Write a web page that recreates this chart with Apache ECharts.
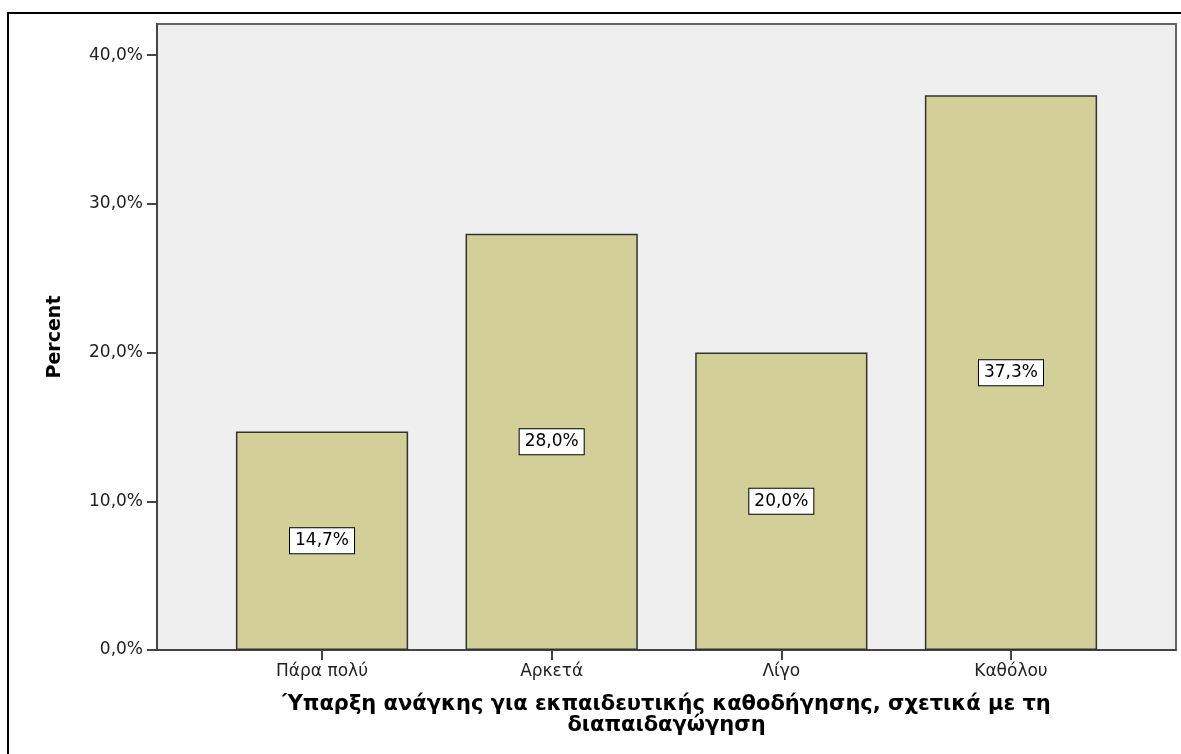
<!DOCTYPE html>
<html>
<head>
<meta charset="utf-8">
<script src="https://cdn.jsdelivr.net/npm/echarts@6/dist/echarts.min.js"></script>
<style>
html,body{margin:0;padding:0;background:#fff;}
#c{width:1181px;height:754px;}
</style>
</head>
<body>
<div id="c"></div>
<script>
const categories = ['Πάρα πολύ', 'Αρκετά', 'Λίγο', 'Καθόλου'];
const percentValues = [14.7, 28.0, 20.0, 37.3];
const yTickValues = [0, 10, 20, 30, 40];
const yAxisMax = 42.1;
const xAxisTitle = 'Ύπαρξη ανάγκης για εκπαιδευτικής καθοδήγησης, σχετικά με τη\nδιαπαιδαγώγηση';
const yAxisTitle = 'Percent';

const fmt = v => v.toFixed(1).replace('.', ',') + '%';
const FONT = 'DejaVu Sans';

const chart = echarts.init(document.getElementById('c'), null, {renderer: 'canvas'});
chart.setOption({
  animation: false,
  backgroundColor: '#ffffff',
  graphic: [{
    type: 'rect', z: 100,
    shape: {x: 8, y: 13, width: 1300, height: 900},
    style: {fill: 'none', stroke: '#000', lineWidth: 2}
  }],
  grid: [
    {left: 157, right: 5, top: 24, bottom: 104, show: true, backgroundColor: '#efefef', borderColor: '#666', borderWidth: 2},
    {left: 207.2, right: 55.2, top: 24, bottom: 104}
  ],
  xAxis: [
    {
      gridIndex: 0, type: 'value', min: 0, max: 1,
      axisLine: {show: true, lineStyle: {color: '#444', width: 2}},
      axisTick: {show: false}, axisLabel: {show: false}, splitLine: {show: false},
      name: xAxisTitle, nameLocation: 'middle', nameGap: 44,
      nameTextStyle: {fontFamily: FONT, fontWeight: 'bold', fontSize: 21, color: '#000', lineHeight: 21, align: 'center'}
    },
    {
      gridIndex: 1, type: 'category', data: categories,
      axisLine: {show: false},
      axisTick: {show: true, alignWithLabel: true, length: 10, lineStyle: {color: '#444', width: 2}},
      axisLabel: {fontFamily: FONT, fontSize: 17, color: '#222', margin: 13},
      splitLine: {show: false}
    }
  ],
  yAxis: [
    {
      gridIndex: 0, type: 'value', min: 0, max: yAxisMax,
      axisLine: {show: true, lineStyle: {color: '#444', width: 2}},
      axisTick: {show: true, length: 10, lineStyle: {color: '#444', width: 2}, customValues: yTickValues},
      axisLabel: {fontFamily: FONT, fontSize: 17, color: '#222', margin: 14, formatter: fmt, customValues: yTickValues},
      splitLine: {show: false},
      name: yAxisTitle, nameLocation: 'middle', nameGap: 92,
      nameTextStyle: {fontFamily: FONT, fontWeight: 'bold', fontSize: 19, color: '#000'}
    },
    {
      gridIndex: 1, type: 'value', min: 0, max: yAxisMax, show: false
    }
  ],
  series: [{
    type: 'bar', xAxisIndex: 1, yAxisIndex: 1,
    data: percentValues,
    barWidth: '75%',
    itemStyle: {color: '#d3cf98', borderColor: '#333', borderWidth: 1.5},
    label: {
      show: true, position: 'inside',
      formatter: p => fmt(p.value),
      fontFamily: FONT, fontSize: 17, color: '#000',
      backgroundColor: '#fff', borderColor: '#000', borderWidth: 1,
      padding: [4, 5, 4, 5]
    }
  }]
});
</script>
</body>
</html>
